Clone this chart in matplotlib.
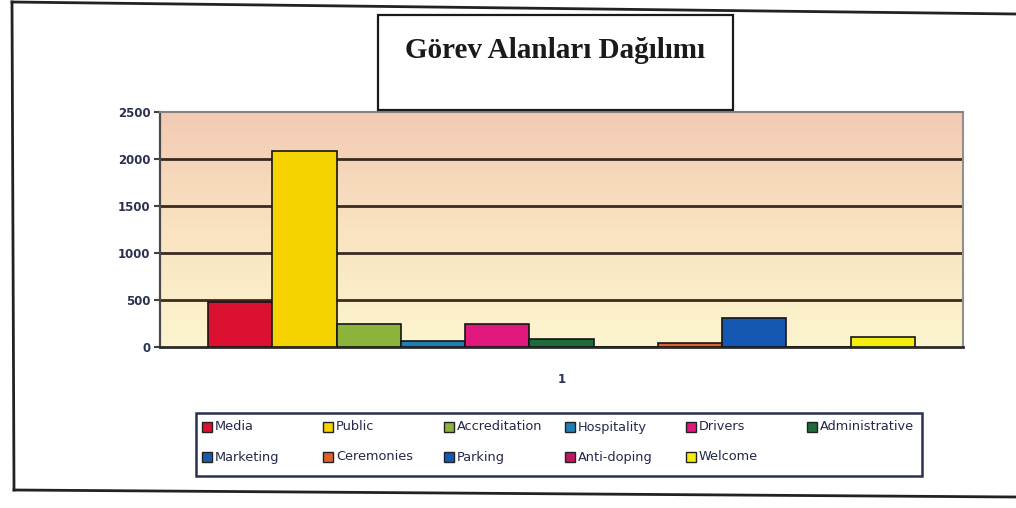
import matplotlib.pyplot as plt
import numpy as np
from matplotlib.patches import Rectangle
from matplotlib.lines import Line2D
from matplotlib.colors import LinearSegmentedColormap

title = 'Görev Alanları Dağılımı'
categories = ['Media', 'Public', 'Accreditation', 'Hospitality', 'Drivers', 'Administrative',
              'Marketing', 'Ceremonies', 'Parking', 'Anti-doping', 'Welcome']
values = [480, 2080, 250, 60, 240, 80, 0, 40, 310, 0, 110]
colors = ['#dc1030', '#f6d200', '#8cb43c', '#1f7fb4', '#e0187c', '#1e6b3c',
          '#1a5aa8', '#e0602c', '#1458b4', '#c01860', '#f4ee10']
yticks = [0, 500, 1000, 1500, 2000, 2500]
xlabels = ['1']

W, H = 1016, 508
def fx(px):
    return px / W
def fy(py):
    return 1 - py / H

fig = plt.figure(figsize=(10.16, 5.08), dpi=100)
fig.patch.set_facecolor('white')

ax = fig.add_axes([fx(160), fy(347), fx(963) - fx(160), fy(112) - fy(347)])
ax.set_xlim(0.5, 1.5)
ax.set_ylim(0, 2500)

# background gradient like the old excel chart
cmap = LinearSegmentedColormap.from_list('bg', ['#fcf5cf', '#f9e3c0', '#f3cab4'])
ax.imshow(np.linspace(0, 1, 256).reshape(-1, 1), extent=[0.5, 1.5, 0, 2500],
          aspect='auto', cmap=cmap, origin='lower', zorder=0)

for y in yticks[1:-1]:
    ax.axhline(y, color='#3a2a22', lw=2, zorder=1)

n = len(categories)
w = 1 / (n + 1.5)
xs = 1 + (np.arange(n) - (n - 1) / 2) * w
for x, v, c, lab in zip(xs, values, colors, categories):
    ax.bar(x, v, width=w, color=c, edgecolor='#151515', linewidth=1.2, zorder=3, label=lab)

ax.set_yticks(yticks)
ax.set_yticklabels([str(t) for t in yticks], fontsize=8.5, fontweight='bold', color='#2b3150')
ax.set_xticks([1])
ax.set_xticklabels(xlabels, fontsize=8.5, fontweight='bold', color='#2b3150')
ax.tick_params(axis='y', length=4, width=1.5, color='#404040', pad=3)
ax.tick_params(axis='x', length=0, pad=19)
ax.spines['left'].set_color('#4a4a4a')
ax.spines['left'].set_linewidth(1.6)
ax.spines['bottom'].set_color('#2a2a2a')
ax.spines['bottom'].set_linewidth(2)
ax.spines['top'].set_color('#8a8080')
ax.spines['top'].set_linewidth(1.5)
ax.spines['right'].set_color('#909090')
ax.spines['right'].set_linewidth(1.5)

# title box
fig.add_artist(Rectangle((fx(378), fy(110)), fx(733) - fx(378), fy(15) - fy(110),
                         transform=fig.transFigure, fill=False, edgecolor='#1a1a1a', lw=1.6))
fig.text(fx(555), fy(50), title, ha='center', va='center', fontsize=21,
         fontweight='bold', family='Liberation Serif', color='#1a1a1a')

# outer frame (scan is slightly tilted)
frame = dict(color='#222222', lw=2)
fig.add_artist(Line2D([fx(12), fx(1016)], [fy(2), fy(14)], **frame))
fig.add_artist(Line2D([fx(12), fx(14)], [fy(2), fy(490)], **frame))
fig.add_artist(Line2D([fx(14), fx(1016)], [fy(490), fy(497)], **frame))

# legend, fixed column grid like excel
fig.add_artist(Rectangle((fx(196), fy(476)), fx(922) - fx(196), fy(413) - fy(476),
                         transform=fig.transFigure, facecolor='white', edgecolor='#2a3050', lw=1.8))
ncol = 6
for i, (lab, c) in enumerate(zip(categories, colors)):
    r, col = divmod(i, ncol)
    mx = 202 + col * 121
    my = 427 + r * 30
    fig.add_artist(Rectangle((fx(mx), fy(my + 5)), fx(10), 10 / H,
                             transform=fig.transFigure, facecolor=c, edgecolor='#222222', lw=1))
    fig.text(fx(mx + 13), fy(my), lab, ha='left', va='center', fontsize=9.3, color='#23284a')

fig.savefig('out.png', dpi=100)
